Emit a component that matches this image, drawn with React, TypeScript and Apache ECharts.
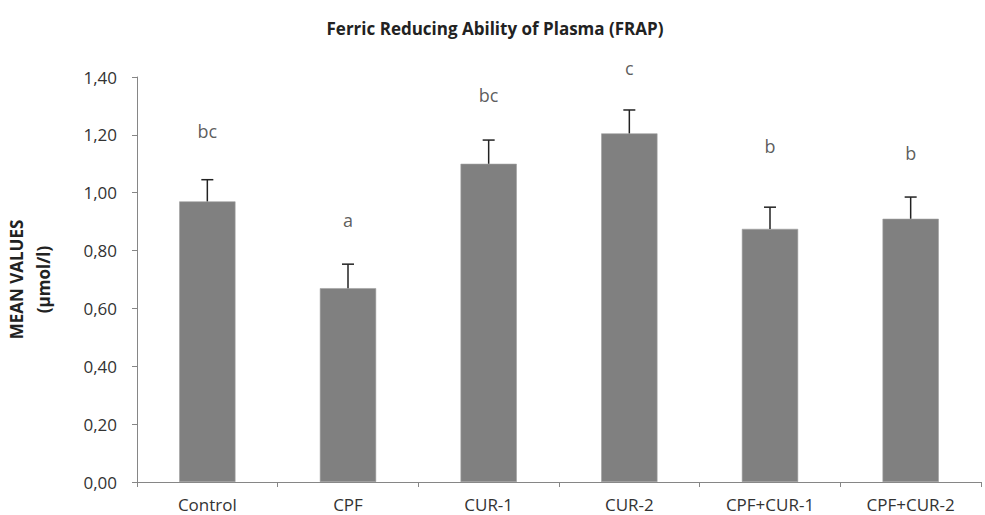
import React, { useEffect, useRef } from "react";
import * as echarts from "echarts";

const categories = ["Control", "CPF", "CUR-1", "CUR-2", "CPF+CUR-1", "CPF+CUR-2"];
const meanValues = [0.97, 0.67, 1.1, 1.205, 0.875, 0.91];
const errorValues = [0.075, 0.083, 0.082, 0.081, 0.075, 0.075];
const letters = ["bc", "a", "bc", "c", "b", "b"];
const letterHeights = [1.214, 0.906, 1.338, 1.431, 1.161, 1.138];

const FONT = "'Open Sans', 'Liberation Sans', sans-serif";

export default function App() {
  const ref = useRef<HTMLDivElement>(null);
  useEffect(() => {
    if (!ref.current) return;
    const chart = echarts.init(ref.current, null, { renderer: "svg" });
    const option: any = {
      animation: false,
      backgroundColor: "#ffffff",
      title: {
        text: "Ferric Reducing Ability of Plasma (FRAP)",
        left: 490,
        top: 15,
        textAlign: "center",
        textStyle: { fontFamily: FONT, fontSize: 17, fontWeight: "bold", color: "#222" },
      },
      grid: { left: 137, right: 4, top: 77, bottom: 33, outerBoundsMode: "none", containLabel: false },
      xAxis: {
        type: "category",
        data: categories,
        axisLine: { lineStyle: { color: "#868686", width: 1 } },
        axisTick: { show: true, length: 5, alignWithLabel: false, lineStyle: { color: "#868686" } },
        axisLabel: { fontFamily: FONT, fontSize: 17, color: "#333", margin: 14 },
      },
      yAxis: {
        type: "value",
        min: 0,
        max: 1.4,
        interval: 0.2,
        name: "MEAN VALUES\n(µmol/l)",
        nameLocation: "middle",
        nameGap: 80,
        nameRotate: 90,
        nameTextStyle: { fontFamily: FONT, fontSize: 17, fontWeight: "bold", color: "#222", lineHeight: 27 },
        axisLine: { show: true, lineStyle: { color: "#868686", width: 1 } },
        axisTick: { show: true, length: 5, inside: false, lineStyle: { color: "#868686" } },
        splitLine: { show: false },
        axisLabel: {
          fontFamily: FONT,
          fontSize: 17,
          color: "#333",
          margin: 20,
          formatter: (v: number) => v.toFixed(2).replace(".", ","),
        },
      },
      series: [
        {
          type: "bar",
          data: meanValues,
          barWidth: "40%",
          itemStyle: { color: "#808080", borderColor: "#a0a0a0", borderWidth: 0.6 },
        },
        {
          type: "custom",
          data: meanValues.map((v, i) => [i, v, v + errorValues[i]]),
          renderItem: (params: any, api: any) => {
            const x = api.value(0);
            const low = api.coord([x, api.value(1)]);
            const high = api.coord([x, api.value(2)]);
            const cap = 6;
            const style = { stroke: "#222", lineWidth: 1.5 };
            return {
              type: "group",
              children: [
                { type: "line", shape: { x1: low[0], y1: low[1], x2: high[0], y2: high[1] }, style },
                { type: "line", shape: { x1: high[0] - cap, y1: high[1], x2: high[0] + cap, y2: high[1] }, style },
              ],
            };
          },
          z: 5,
        },
        {
          type: "scatter",
          clip: false,
          symbolSize: 1,
          itemStyle: { color: "rgba(0,0,0,0)" },
          data: letterHeights.map((h, i) => ({ value: [i, h], name: letters[i] })),
          label: {
            show: true,
            position: "inside",
            formatter: (p: any) => p.name,
            fontFamily: FONT,
            fontSize: 18,
            color: "#333",
          },
        },
      ],
    };
    chart.setOption(option);
    return () => chart.dispose();
  }, []);
  return <div ref={ref} style={{ width: 985, height: 515, position: "absolute", left: 0, top: 0 }} />;
}
